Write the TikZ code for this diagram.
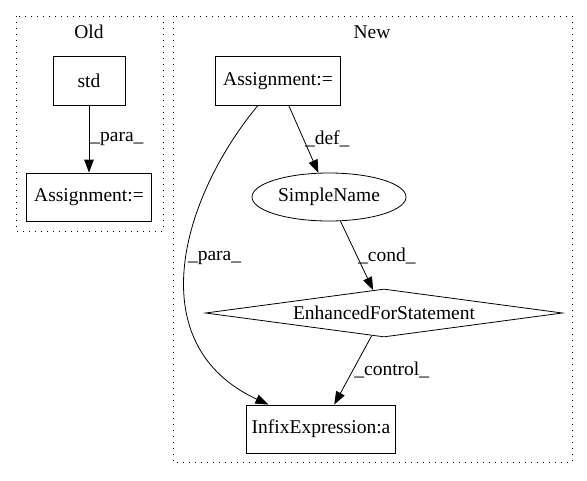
\documentclass[tikz,border=0pt]{standalone}
\usepackage{fontspec}
\setmainfont{Liberation Serif}
\usetikzlibrary{shapes.geometric,arrows.meta}
\tikzset{
  box/.style={draw,rectangle,inner sep=0pt},
  cluster/.style={draw,dash pattern=on 1.3pt off 4.7pt},
  edge/.style={-{Triangle[length=13pt,width=9.5pt]}},
  lbl/.style={anchor=west,inner sep=1pt}
}
\begin{document}
\begin{tikzpicture}[x=1pt,y=-1pt,line width=0.8pt,font=\fontsize{19.5}{22}\selectfont]
            \useasboundingbox (0,0) rectangle (587,480);

            % Old
            \draw[cluster] (16,16) rectangle (163,231);
            \node (oldtitle) at (89,32) {Old};
            \node[box,minimum width=72pt,minimum height=49pt] (std) at (89,81) {std};
            \node[box,minimum width=125pt,minimum height=48pt] (oldassign) at (89,197) {Assignment:=};
            \draw[edge] (std) -- (oldassign) node[lbl,midway,right] {\_para\_};

            % New
            \draw[cluster] (173,16) rectangle (572,462);
            \node (newtitle) at (372,32) {New};
            \node[box,minimum width=125pt,minimum height=49pt] (assign) at (278,81) {Assignment:=};
            \node[draw,ellipse,inner sep=0pt,minimum width=154pt,minimum height=48pt] (name) at (329,197) {SimpleName};
            \node[draw,diamond,aspect=7.4,inner sep=0pt,minimum width=357pt,minimum height=48pt] (loop) at (384,313) {EnhancedForStatement};
            \node[box,minimum width=149pt,minimum height=48pt] (infix) at (321,429) {InfixExpression:a};

            \draw[edge] (assign) -- (name) node[lbl,midway,right] {\_def\_};
            \draw[edge] (name) -- (loop) node[lbl,midway,right] {\_cond\_};
            \draw[edge] (loop) -- (infix) node[lbl,midway,right] {\_control\_};
            \draw[edge] (assign) .. controls (180,200) and (140,345) .. (infix) node[lbl,pos=0.47,right] {\_para\_};
        \end{tikzpicture}
\end{document}
